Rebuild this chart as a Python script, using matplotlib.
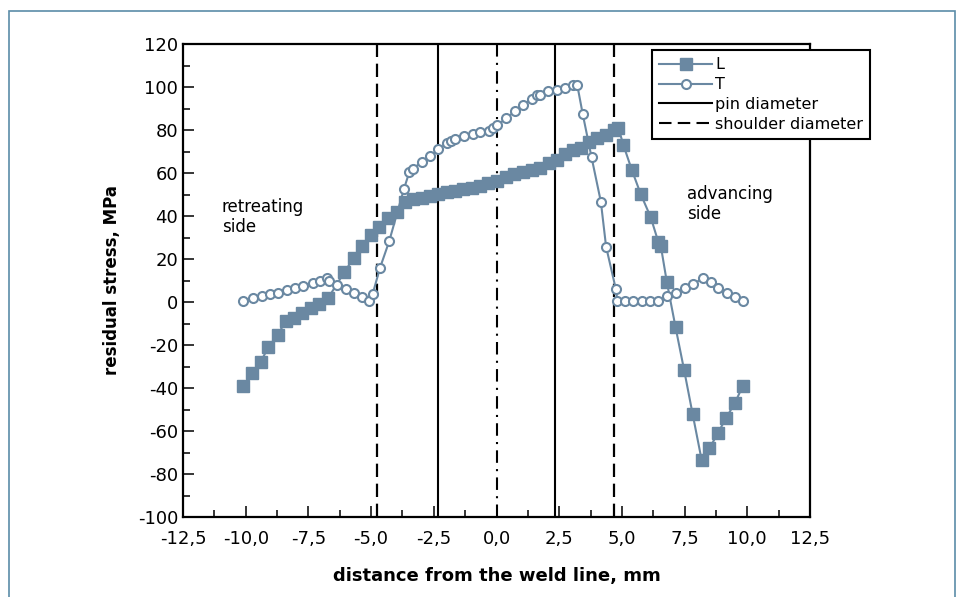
import matplotlib
matplotlib.use("Agg")
import matplotlib.pyplot as plt
from matplotlib.ticker import MultipleLocator, FuncFormatter
from matplotlib.lines import Line2D
from matplotlib.patches import Rectangle

# Longitudinal residual stress (L)
L_x = [-10.10, -9.74, -9.40, -9.10, -8.72, -8.41, -8.06, -7.74, -7.40, -7.07, -6.72,
       -6.07, -5.69, -5.36, -5.02, -4.69, -4.31, -3.98, -3.65, -3.32, -2.98, -2.65,
       -2.32, -1.99, -1.65, -1.32, -0.99, -0.66, -0.33, 0.00, 0.38, 0.70, 1.07, 1.40,
       1.73, 2.11, 2.40, 2.73, 3.06, 3.36, 3.70, 4.02, 4.37, 4.69, 4.86, 5.06, 5.39,
       5.75, 6.15, 6.45, 6.55, 6.79, 7.14, 7.48, 7.82, 8.18, 8.49, 8.82, 9.15, 9.51, 9.82]
L_y = [-39.1, -33.2, -27.8, -21.1, -15.2, -9.0, -7.6, -5.0, -2.6, -0.8, 1.7,
       13.8, 20.6, 26.0, 31.3, 35.0, 38.9, 42.0, 46.7, 47.9, 48.5, 49.4,
       50.2, 51.0, 51.6, 52.4, 53.2, 54.1, 55.2, 56.2, 58.0, 59.4, 60.3, 61.3,
       62.2, 64.5, 66.0, 68.7, 70.7, 71.8, 74.6, 76.1, 77.7, 80.0, 81.0, 73.0, 61.6,
       50.2, 39.4, 28.0, 26.2, 9.4, -11.8, -31.6, -52.1, -73.5, -68.1, -61.1, -54.1, -46.8, -39.1]

# Transverse residual stress (T)
T_x = [-10.12, -9.70, -9.36, -9.03, -8.70, -8.37, -8.03, -7.70, -7.33, -7.04, -6.75,
       -6.67, -6.35, -6.01, -5.68, -5.35, -5.08, -4.94, -4.65, -4.28, -3.69, -3.48,
       -3.34, -2.98, -2.65, -2.32, -1.96, -1.83, -1.65, -1.28, -0.95, -0.66, -0.29,
       -0.15, 0.02, 0.38, 0.74, 1.04, 1.40, 1.60, 1.73, 2.07, 2.40, 2.73, 3.06, 3.22,
       3.44, 3.79, 4.16, 4.37, 4.76, 4.82, 5.12, 5.45, 5.79, 6.12, 6.45, 6.79, 7.16,
       7.52, 7.85, 8.22, 8.54, 8.84, 9.18, 9.51, 9.84]
T_y = [0.6, 1.7, 2.8, 3.7, 4.3, 5.6, 6.7, 7.4, 9.0, 9.8, 11.0,
       9.8, 7.9, 5.9, 4.3, 2.5, 0.5, 3.6, 15.7, 28.2, 52.6, 60.3,
       61.7, 65.3, 67.9, 71.0, 73.8, 75.0, 75.7, 77.3, 78.0, 79.2, 79.5,
       80.8, 82.1, 85.4, 88.8, 91.6, 94.4, 96.3, 96.3, 98.1, 98.6, 99.7, 100.9, 100.9,
       87.3, 67.3, 46.7, 25.7, 5.9, 0.5, 0.5, 0.5, 0.5, 0.5, 0.5, 2.8, 4.3,
       6.4, 8.4, 11.0, 9.4, 6.4, 4.3, 2.5, 0.5]

pin_positions = [-2.35, 2.35]
shoulder_positions = [-4.75, 4.7]
center_position = [0.0]

series_labels = ["L", "T", "pin diameter", "shoulder diameter"]
x_label = "distance from the weld line, mm"
y_label = "residual stress, MPa"
side_labels = ["retreating\nside", "advancing\nside"]

color = "#6a88a2"
plt.rcParams['font.family'] = ['DejaVu Sans']

fig = plt.figure(figsize=(9.61, 5.97), dpi=100)
ax = fig.add_axes([183/961, 80/597, 627/961, 473/597])

ax.plot(L_x, L_y, '-', color=color, lw=1.5, marker='s', ms=8,
        mfc=color, mec=color, zorder=3)
ax.plot(T_x, T_y, '-', color=color, lw=1.5, marker='o', ms=6.5,
        mfc='white', mec=color, mew=1.5, zorder=3)

for xp in pin_positions:
    ax.axvline(xp, color='black', lw=1.5, zorder=2)
for xp in shoulder_positions:
    ax.axvline(xp, color='black', lw=1.6, dashes=(6, 3), zorder=2)
for xp in center_position:
    ax.axvline(xp, color='black', lw=1.5, dashes=(6, 3, 1, 3), zorder=2)

ax.set_xlim(-12.5, 12.5)
ax.set_ylim(-100, 120)
ax.xaxis.set_major_locator(MultipleLocator(2.5))
ax.xaxis.set_minor_locator(MultipleLocator(1.25))
ax.yaxis.set_major_locator(MultipleLocator(20))
ax.yaxis.set_minor_locator(MultipleLocator(10))
ax.xaxis.set_major_formatter(FuncFormatter(lambda v, p: f"{v:.1f}".replace('.', ',')))
ax.yaxis.set_major_formatter(FuncFormatter(lambda v, p: f"{v:.0f}"))
ax.tick_params(which='major', direction='in', length=8, width=1.1, labelsize=13,
               top=False, right=False)
ax.tick_params(which='minor', direction='in', length=5, width=1.1, top=False, right=False)
ax.tick_params(axis='x', pad=9)
for s in ax.spines.values():
    s.set_linewidth(1.6)

ax.set_xlabel(x_label, fontsize=13, fontweight='bold', labelpad=14)
ax.set_ylabel(y_label, fontsize=12, fontweight='bold', labelpad=12)

ax.text(-10.95, 39.5, side_labels[0], fontsize=12, ha='left', va='center', linespacing=1.1)
ax.text(7.6, 45.5, side_labels[1], fontsize=12, ha='left', va='center', linespacing=1.1)

handles = [
    Line2D([], [], color=color, lw=1.5, marker='s', ms=8, mfc=color, mec=color),
    Line2D([], [], color=color, lw=1.5, marker='o', ms=6.5, mfc='white', mec=color, mew=1.5),
    Line2D([], [], color='black', lw=1.5),
    Line2D([], [], color='black', lw=1.5, dashes=(6, 3)),
]
leg = ax.legend(handles, series_labels, loc='upper left', bbox_to_anchor=(0.748, 0.987),
                fontsize=11.5, frameon=True, fancybox=False, edgecolor='black',
                framealpha=1, handlelength=3.3, handletextpad=0.2, labelspacing=0.3,
                borderpad=0.45, borderaxespad=0)
leg.get_frame().set_linewidth(1.5)
leg.set_zorder(10)

frame = Rectangle((9/961, -0.05), (955-9)/961, 1.05 - 11/597, transform=fig.transFigure,
                  fill=False, edgecolor='#5b8ca8', lw=1.2, clip_on=False)
fig.patches.append(frame)

fig.savefig("out.png", dpi=100)
